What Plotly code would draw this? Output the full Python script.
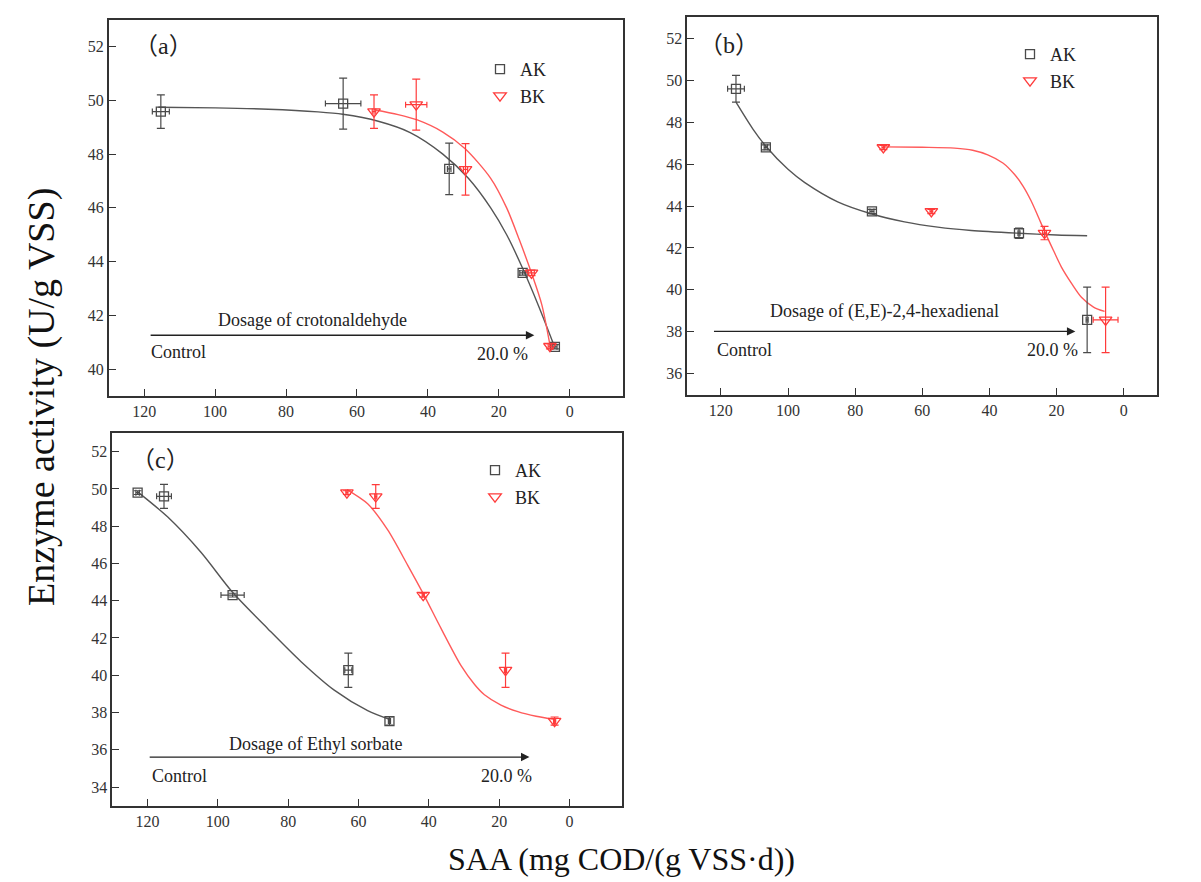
import plotly.graph_objects as go

# ---------------- data ----------------
# Panel (a) crotonaldehyde
a_ak_x = [115.3, 63.9, 34.0, 13.3, 4.2]
a_ak_y = [49.58, 49.88, 47.45, 43.58, 40.83]
a_ak_xerr = [2.4, 5.0, 0.5, 0.8, 0.6]
a_ak_yerr = [0.62, 0.95, 0.96, 0.08, 0.08]
a_bk_x = [55.2, 43.3, 29.4, 10.8, 5.6]
a_bk_y = [49.58, 49.84, 47.43, 43.58, 40.85]
a_bk_xerr = [0.5, 3.0, 0.6, 0.8, 0.5]
a_bk_yerr = [0.62, 0.95, 0.96, 0.1, 0.1]
a_akfit_x = [116, 100, 85, 71, 64, 54, 45, 35.8, 28.6, 22.3, 17.8, 13.3, 8.8, 4.5]
a_akfit_y = [49.74, 49.72, 49.67, 49.57, 49.48, 49.22, 48.8, 48.0, 47.1, 46.0, 45.0, 43.75, 42.35, 40.9]
a_bkfit_x = [55.2, 48.4, 43, 35.8, 29.5, 22.3, 17.8, 14.2, 10.6, 7.9, 5.6]
a_bkfit_y = [49.65, 49.47, 49.27, 48.82, 48.2, 47.1, 46.0, 44.8, 43.5, 42.4, 40.9]

# Panel (b) (E,E)-2,4-hexadienal
b_ak_x = [115.5, 106.6, 75.0, 31.2, 10.9]
b_ak_y = [49.59, 46.80, 43.74, 42.70, 38.57]
b_ak_xerr = [2.5, 0.5, 0.6, 0.3, 0.3]
b_ak_yerr = [0.64, 0.12, 0.1, 0.24, 1.56]
b_bk_x = [71.6, 57.3, 23.6, 5.4]
b_bk_y = [46.79, 43.74, 42.71, 38.57]
b_bk_xerr = [0.4, 0.4, 0.6, 3.7]
b_bk_yerr = [0.1, 0.1, 0.32, 1.56]
b_akfit_x = [115.5, 110.5, 106.6, 100, 95.1, 85.2, 75, 65.3, 55.4, 45.4, 31.2, 20, 10.9]
b_akfit_y = [48.95, 47.68, 46.85, 45.75, 45.13, 44.2, 43.62, 43.24, 42.99, 42.83, 42.7, 42.62, 42.58]
b_bkfit_x = [71.6, 60, 50.4, 45, 40.5, 36, 32.5, 30, 27.6, 25.5, 23.6, 21, 18.6, 15.5, 12.6, 9, 5.7]
b_bkfit_y = [46.82, 46.8, 46.76, 46.66, 46.44, 46.05, 45.5, 44.95, 44.25, 43.5, 42.8, 41.9, 41.1, 40.3, 39.65, 39.18, 38.97]

# Panel (c) Ethyl sorbate
c_ak_x = [122.8, 115.3, 95.8, 62.9, 51.2]
c_ak_y = [49.80, 49.60, 44.30, 40.27, 37.54]
c_ak_xerr = [0.5, 2.1, 3.3, 1.0, 0.3]
c_ak_yerr = [0.1, 0.64, 0.1, 0.92, 0.22]
c_bk_x = [63.3, 55.1, 41.6, 18.2, 4.25]
c_bk_y = [49.80, 49.59, 44.30, 40.27, 37.54]
c_bk_xerr = [0.3, 0.3, 0.3, 0.3, 0.3]
c_bk_yerr = [0.1, 0.64, 0.1, 0.92, 0.22]
c_akfit_x = [122.8, 114.3, 104.8, 95.8, 85.8, 76.4, 66.9, 57.4, 51.2]
c_akfit_y = [49.84, 48.5, 46.6, 44.45, 42.5, 40.74, 39.2, 38.1, 37.63]
c_bkfit_x = [63.3, 57.4, 51.7, 46.0, 41.6, 36.5, 30.8, 27.0, 24.2, 19.5, 14.7, 9.5, 4.25]
c_bkfit_y = [49.96, 49.2, 47.8, 45.9, 44.38, 42.5, 40.5, 39.5, 38.95, 38.4, 38.05, 37.8, 37.63]

series_names = ["AK", "BK"]
panel_labels = ["（a）", "（b）", "（c）"]
dosage_labels = ["Dosage of crotonaldehyde", "Dosage of (E,E)-2,4-hexadienal", "Dosage of Ethyl sorbate"]
x_ticks = [0, 20, 40, 60, 80, 100, 120]

# ---------------- styling ----------------
FONT = "Liberation Serif, Times New Roman, serif"
BLACK = "#4a4a4a"
RED = "#ff3b3b"
AXC = "#333333"

fig = go.Figure()

panels = [
    dict(ak=(a_ak_x, a_ak_y, a_ak_xerr, a_ak_yerr), bk=(a_bk_x, a_bk_y, a_bk_xerr, a_bk_yerr),
         akfit=(a_akfit_x, a_akfit_y), bkfit=(a_bkfit_x, a_bkfit_y), xa="x", ya="y", leg="legend"),
    dict(ak=(b_ak_x, b_ak_y, b_ak_xerr, b_ak_yerr), bk=(b_bk_x, b_bk_y, b_bk_xerr, b_bk_yerr),
         akfit=(b_akfit_x, b_akfit_y), bkfit=(b_bkfit_x, b_bkfit_y), xa="x2", ya="y2", leg="legend2"),
    dict(ak=(c_ak_x, c_ak_y, c_ak_xerr, c_ak_yerr), bk=(c_bk_x, c_bk_y, c_bk_xerr, c_bk_yerr),
         akfit=(c_akfit_x, c_akfit_y), bkfit=(c_bkfit_x, c_bkfit_y), xa="x3", ya="y3", leg="legend3"),
]

for p in panels:
    for fit, col in ((p["akfit"], "#555555"), (p["bkfit"], "#ff5a5a")):
        fig.add_trace(go.Scatter(x=fit[0], y=fit[1], mode="lines",
                                 line=dict(color=col, width=1.4, shape="spline", smoothing=0.8),
                                 xaxis=p["xa"], yaxis=p["ya"], showlegend=False, hoverinfo="skip"))
    for key, name, col, sym, size in (("ak", series_names[0], BLACK, "square-open", 9),
                                      ("bk", series_names[1], RED, "triangle-down-open", 11)):
        x, y, xe, ye = p[key]
        fig.add_trace(go.Scatter(
            x=x, y=y, mode="markers", name=name,
            marker=dict(symbol=sym, size=size, color=col, line=dict(width=1.3, color=col)),
            error_x=dict(type="data", array=xe, visible=True, color=col, thickness=1.2, width=3),
            error_y=dict(type="data", array=ye, visible=True, color=col, thickness=1.2, width=4),
            xaxis=p["xa"], yaxis=p["ya"], legend=p["leg"]))

W, H = 1201, 882

def px_x(v):
    return v / W

def px_y(v):
    return 1 - v / H

axis_common = dict(showline=True, mirror=True, linecolor=AXC, linewidth=1.6, ticks="inside", ticklen=7,
                   tickwidth=1.4, tickcolor=AXC, showgrid=False, zeroline=False,
                   tickfont=dict(family=FONT, size=16, color="#333333"))

leg_common = dict(xanchor="left", yanchor="top", bgcolor="rgba(0,0,0,0)",
                  font=dict(family=FONT, size=18, color="#222222"), tracegroupgap=0)

fig.update_layout(
    width=W, height=H, plot_bgcolor="white", paper_bgcolor="white",
    margin=dict(l=0, r=0, t=0, b=0, autoexpand=False),
    xaxis=dict(domain=[px_x(100.7), px_x(615)], range=[130, -15], tickvals=x_ticks, anchor="y", **axis_common),
    yaxis=dict(domain=[px_y(388), px_y(11.7)], range=[39, 53], dtick=2, tick0=40, anchor="x", **axis_common),
    xaxis2=dict(domain=[px_x(679.3), px_x(1149.3)], range=[130, -10], tickvals=x_ticks, anchor="y2", **axis_common),
    yaxis2=dict(domain=[px_y(386.7), px_y(9.3)], range=[35, 53], dtick=2, tick0=36, anchor="x2", **axis_common),
    xaxis3=dict(domain=[px_x(104.3), px_x(614.3)], range=[130, -15], tickvals=x_ticks, anchor="y3", **axis_common),
    yaxis3=dict(domain=[px_y(797.7), px_y(425)], range=[33, 53], dtick=2, tick0=34, anchor="x3", **axis_common),
    legend=dict(x=px_x(472), y=px_y(43), **leg_common),
    legend2=dict(x=px_x(1002), y=px_y(28), **leg_common),
    legend3=dict(x=px_x(467), y=px_y(444), **leg_common),
)

ann = []
TF = dict(family=FONT, size=18, color="#222222")
LF = dict(family="Liberation Serif, Noto Sans CJK SC, serif", size=24, color="#222222")

# panel labels (paper coords from pixel positions)
for lab, (cx, cy) in zip(panel_labels, [(155, 38), (721, 37), (152.5, 452)]):
    ann.append(dict(text=lab, x=px_x(cx), y=px_y(cy), xref="paper", yref="paper", xanchor="center",
                    yanchor="middle", showarrow=False, font=LF))

# dosage arrows and texts (data coords of each panel)
arrow_specs = [
    ("x", "y", 118.6, 10.0, 41.26, 72.5, 41.81, 118.6, 40.64, 11.2, 40.58),
    ("x2", "y2", 122.5, 14.4, 38.02, 71.3, 38.97, 121.8, 37.11, 13.1, 37.14),
    ("x3", "y3", 119.8, 11.4, 35.61, 72.1, 36.33, 119.2, 34.60, 10.2, 34.61),
]
for (xr, yr, tail, head, ya, dx, dy, cx, cy, px, py), dl in zip(arrow_specs, dosage_labels):
    ann.append(dict(x=head, y=ya, ax=tail, ay=ya, xref=xr, yref=yr, axref=xr, ayref=yr, text="",
                    showarrow=True, arrowhead=2, arrowsize=1.3, arrowwidth=1.3, arrowcolor="#222222", standoff=0))
    ann.append(dict(text=dl, x=dx, y=dy, xref=xr, yref=yr, xanchor="center", yanchor="middle", showarrow=False, font=TF))
    ann.append(dict(text="Control", x=cx, y=cy, xref=xr, yref=yr, xanchor="left", yanchor="middle", showarrow=False, font=TF))
    ann.append(dict(text="20.0 %", x=px, y=py, xref=xr, yref=yr, xanchor="right", yanchor="middle", showarrow=False, font=TF))

# global axis titles
ann.append(dict(text="Enzyme activity (U/g VSS)", x=px_x(33), y=px_y(389), xref="paper", yref="paper",
                xanchor="center", yanchor="middle", textangle=-90, showarrow=False,
                font=dict(family=FONT, size=38, color="#111111")))
ann.append(dict(text="SAA (mg COD/(g VSS·d))", x=px_x(613), y=px_y(851), xref="paper", yref="paper",
                xanchor="center", yanchor="middle", showarrow=False,
                font=dict(family=FONT, size=32, color="#111111")))

fig.update_layout(annotations=ann)
fig.write_html("out.html")
